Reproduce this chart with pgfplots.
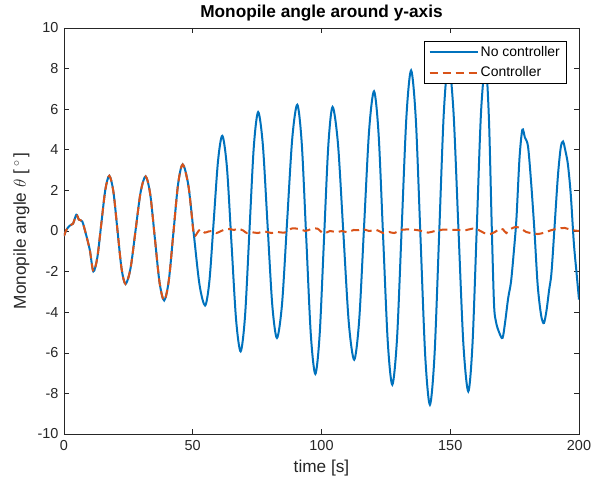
\documentclass[border=0pt]{standalone}
\usepackage{pgfplots}
\pgfplotsset{compat=1.18}
\usepackage{fontspec}
\setmainfont{Liberation Sans}
\definecolor{mblue}{rgb}{0,0.447,0.741}
\definecolor{morange}{rgb}{0.85,0.325,0.098}
\definecolor{axgray}{rgb}{0.15,0.15,0.15}
\begin{document}
\begin{tikzpicture}
\begin{axis}[
  scale only axis, width=515bp, height=406bp,
  xmin=0, xmax=200, ymin=-10, ymax=10,
  xtick={0,50,100,150,200}, ytick={-10,-8,-6,-4,-2,0,2,4,6,8,10},
  tick align=inside, xtick pos=both, ytick pos=both, major tick length=5bp,
  axis line style={draw=axgray, line width=0.6bp},
  every tick/.style={draw=axgray, line width=0.6bp},
  /pgf/number format/assume math mode=true,
  tick label style={font=\fontsize{14.5}{16}\selectfont, color=axgray},
  yticklabel style={xshift=-2bp},
  xticklabel style={yshift=-3bp},
  title={\bfseries Monopile angle around y-axis},
  title style={at={(axis description cs:0.5,1)}, anchor=base, yshift=5bp, font=\fontsize{17.3}{20}\selectfont},
  xlabel={time [s]},
  xlabel style={at={(axis description cs:0.5,0)}, anchor=base, yshift=-38bp, font=\fontsize{17.3}{20}\selectfont, color=axgray},
  ylabel={Monopile angle $\theta$ [\,$^{\circ}$\,]},
  ylabel style={at={(axis description cs:-0.0738,0.5)}, anchor=base, font=\fontsize{17.3}{20}\selectfont, color=axgray},
  legend style={at={(rel axis cs:0.9748,0.968)}, anchor=north east, draw=black, line width=0.5bp,
    font=\fontsize{14}{16}\selectfont, inner xsep=4bp, inner ysep=3bp, row sep=5bp},
  legend cell align=left,
  legend image code/.code={\draw[#1] (0bp,0bp) -- (48bp,0bp);},
]
\addplot[mblue, line width=2bp, smooth] coordinates {
(0,-0.25)(0.9,0.05)(2.2,0.26)(3.5,0.36)(4.8,0.8)(5.8,0.56)(7.1,0.47)(8.4,-0.1)(10,-0.92)(11.4,-1.99)
(12.95,-1.30)(14.5,0.37)(16.05,2.03)(17.6,2.72)
(19.18,1.94)(20.75,0.06)(22.33,-1.83)(23.9,-2.61)
(25.85,-1.83)(27.8,0.04)(29.75,1.91)(31.7,2.69)
(33.5,1.80)(35.3,-0.37)(37.1,-2.53)(38.9,-3.42)
(40.7,-2.44)(42.5,-0.07)(44.3,2.30)(46.1,3.28)
(48.28,2.26)(50.45,-0.20)(52.63,-2.65)(54.8,-3.67)
(56.48,-2.45)(58.15,0.51)(59.83,3.47)(61.5,4.69)
(63.28,3.13)(65.05,-0.62)(66.83,-4.37)(68.6,-5.93)
(70.3,-4.20)(72.0,-0.04)(73.7,4.13)(75.4,5.86)
(77.23,4.23)(79.05,0.30)(80.88,-3.64)(82.7,-5.27)
(84.68,-3.59)(86.65,0.48)(88.63,4.54)(90.6,6.22)
(92.35,4.28)(94.1,-0.41)(95.85,-5.10)(97.6,-7.04)
(99.28,-5.11)(100.95,-0.47)(102.63,4.18)(104.3,6.11)
(106.4,4.29)(108.5,-0.12)(110.6,-4.52)(112.7,-6.34)
(114.63,-4.40)(116.55,0.27)(118.48,4.94)(120.4,6.88)
(122.18,4.76)(123.95,-0.35)(125.73,-5.45)(127.5,-7.57)
(129.33,-5.30)(131.15,0.17)(132.98,5.64)(134.8,7.91)
(136.63,5.50)(138.45,-0.33)(140.28,-6.15)(142.1,-8.56)
(143.9,-6.09)(145.7,-0.13)(147.5,5.83)(149.3,8.3)
(151.23,5.93)(153.15,0.2)(155.08,-5.53)(157.0,-7.9)
(158.65,-5.54)(160.3,0.15)(161.95,5.84)(163.7,8.2)
(165.0,5.6)(166.1,0.3)(167.0,-3.6)(167.8,-4.5)(169.0,-5.0)(170.3,-5.27)(171.3,-4.5)(172.5,-3.3)(173.6,-2.5)
(174.7,-1.0)(175.7,0.6)(176.9,3.6)(178.0,4.99)(179.0,4.6)(180.2,4.17)(181.4,2.4)(182.7,0)(183.8,-2.4)
(184.6,-3.5)(185.5,-4.3)(186.4,-4.53)(187.4,-3.9)(188.4,-2.9)(189.3,-2.07)(190.5,0.2)(191.8,2.7)(192.9,4.1)
(193.8,4.41)(194.8,3.9)(195.7,3.27)(196.8,1.8)(198.0,-0.6)(199.0,-2.0)(200,-3.38)
};
\addlegendentry{No controller}
\addplot[morange, line width=2bp, smooth, dash pattern=on 8bp off 5bp] coordinates {
(0,-0.25)(0.9,0.05)(2.2,0.26)(3.5,0.36)(4.8,0.8)(5.8,0.56)(7.1,0.47)(8.4,-0.1)(10,-0.92)(11.4,-1.99)
(12.95,-1.30)(14.5,0.37)(16.05,2.03)(17.6,2.72)
(19.18,1.94)(20.75,0.06)(22.33,-1.83)(23.9,-2.61)
(25.85,-1.83)(27.8,0.04)(29.75,1.91)(31.7,2.69)
(33.5,1.80)(35.3,-0.37)(37.1,-2.53)(38.9,-3.42)
(40.7,-2.44)(42.5,-0.07)(44.3,2.30)(46.1,3.28)
(48.28,2.26)(49.5,0.9)(50.3,-0.1)(50.9,-0.25)(51.6,-0.12)(52.9,0.08)(54.6,-0.08)(56.2,-0.02)(57.6,0.0)
(59.2,-0.1)(61,0.0)(62.6,0.08)(64.4,0.1)(66,0.05)(67.6,0.12)(69.6,0.02)(71,-0.1)(73,-0.06)(75.3,-0.1)
(77.8,-0.02)(80.5,-0.1)(83,-0.05)(85.6,-0.08)(88.3,0.12)(90.2,0.12)(92.2,0.06)(93.8,0.0)(96.1,0.1)
(98.4,0.12)(100.8,-0.12)(103.3,0.0)(105.8,-0.06)(108,0.0)(110,-0.06)(112.5,0.05)(114.3,0.04)(116.1,0.1)
(118.5,0.0)(121.3,0.05)(124,-0.1)(126.3,-0.05)(128.2,-0.1)(131,0.05)(134.3,0.08)(136.8,0.05)(139,0.0)
(141.4,-0.08)(144,0.0)(146.6,0.06)(149,0.07)(151,0.05)(153.5,0.05)(156,0.04)(158.8,0.12)(161,0.05)
(163.2,-0.1)(165.5,-0.15)(167.6,-0.03)(169.2,0.12)(170.5,0.08)(171.8,-0.1)(173.5,0.1)(175.5,0.2)
(177.5,0.12)(179.5,-0.05)(181.5,-0.1)(184,-0.15)(186.5,-0.08)(189.5,0.05)(192,0.12)(194.5,0.15)
(197,0.05)(200,0.0)
};
\addlegendentry{Controller}
\end{axis}
\pgfresetboundingbox
\path ([shift={(-64bp,-50bp)}]current axis.south west) rectangle ([shift={(12bp,28bp)}]current axis.north east);
\end{tikzpicture}
\end{document}
